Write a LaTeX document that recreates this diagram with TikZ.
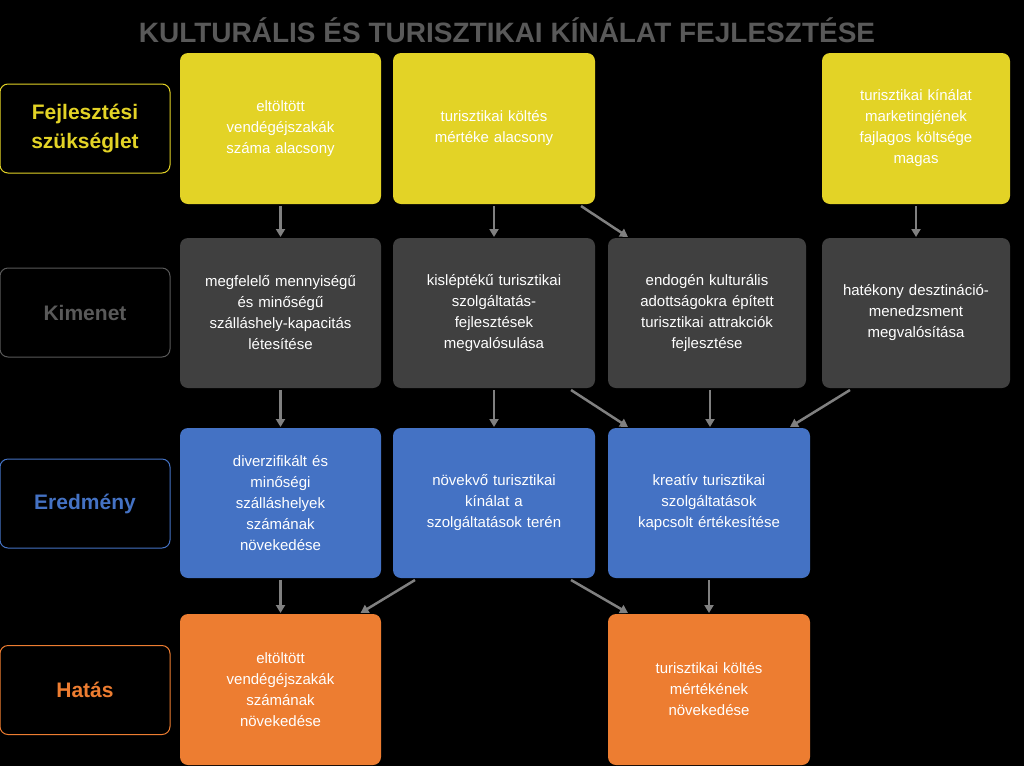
\documentclass[tikz,border=0pt]{standalone}
\usepackage{fontspec}
\setmainfont{Liberation Sans}
\usetikzlibrary{calc,arrows.meta}
\definecolor{cy}{HTML}{E3D326}
\definecolor{cg}{HTML}{404040}
\definecolor{cb}{HTML}{4472C4}
\definecolor{co}{HTML}{ED7D31}
\definecolor{ct}{HTML}{595959}
\definecolor{ca}{HTML}{808080}
\begin{document}
\begin{tikzpicture}[x=1pt,y=-1pt,
 box/.style={rounded corners=8pt,text=white,align=center,font=\fontsize{15}{21}\selectfont,inner sep=0pt},
 lab/.style={rounded corners=8pt,draw,line width=1pt,fill=black,align=center,font=\fontsize{21}{29}\selectfont\bfseries,inner sep=0pt},
 arr/.style={ca,line width=2.5pt,-{Triangle[length=8pt,width=9pt]}}]
\fill[black] (0,0) rectangle (1024,766);
\useasboundingbox (0,0) rectangle (1024,766);
\node[text=ct,font=\fontsize{28}{32}\selectfont\bfseries] (t) at (507,30) {KULTURÁLIS ÉS TURISZTIKAI KÍNÁLAT FEJLESZTÉSE};
\newcommand{\bx}[7]{\path[box,fill=#6] (#2,#3) rectangle (#4,#5);
 \node[box,text width=#4-#2-12] (#1) at ({(#2+#4)/2},{(#3+#5)/2}) {#7};
 \coordinate (#1n) at ({(#2+#4)/2},#3); \coordinate (#1s) at ({(#2+#4)/2},#5);}
\bx{y1}{180}{53}{381}{204}{cy}{eltöltött\\vendégéjszakák\\száma alacsony}
\bx{y2}{393}{53}{595}{204}{cy}{turisztikai költés\\mértéke alacsony}
\bx{y4}{822}{53}{1010}{204}{cy}{turisztikai kínálat\\marketingjének\\fajlagos költsége\\magas}
\bx{k1}{180}{238}{381}{388}{cg}{megfelelő mennyiségű\\és minőségű\\szálláshely-kapacitás\\létesítése}
\bx{k2}{393}{238}{595}{388}{cg}{kisléptékű turisztikai\\szolgáltatás-\\fejlesztések\\megvalósulása}
\bx{k3}{608}{238}{806}{388}{cg}{endogén kulturális\\adottságokra épített\\turisztikai attrakciók\\fejlesztése}
\bx{k4}{822}{238}{1010}{388}{cg}{hatékony desztináció-\\menedzsment\\megvalósítása}
\bx{e1}{180}{428}{381}{578}{cb}{diverzifikált és\\minőségi\\szálláshelyek\\számának\\növekedése}
\bx{e2}{393}{428}{595}{578}{cb}{növekvő turisztikai\\kínálat a\\szolgáltatások terén}
\bx{e3}{608}{428}{810}{578}{cb}{kreatív turisztikai\\szolgáltatások\\kapcsolt értékesítése}
\bx{h1}{180}{614}{381}{765}{co}{eltöltött\\vendégéjszakák\\számának\\növekedése}
\bx{h3}{608}{614}{810}{765}{co}{turisztikai költés\\mértékének\\növekedése}
\node[lab,draw=cy,text=cy,minimum width=170pt,minimum height=89pt] (l1) at (85,128.5) {Fejlesztési\\szükséglet};
\node[lab,draw=ct,text=ct,minimum width=170pt,minimum height=89pt] (l2) at (85,312.5) {Kimenet};
\node[lab,draw=cb,text=cb,minimum width=170pt,minimum height=89pt] (l3) at (85,503.5) {Eredmény};
\node[lab,draw=co,text=co,minimum width=170pt,minimum height=89pt] (l4) at (85,690) {Hatás};
\draw[arr] ($(y1s)+(0,2)$) -- ($(k1n)+(0,-1)$);
\draw[arr] ($(y2s)+(0,2)$) -- ($(k2n)+(0,-1)$);
\draw[arr] ($(y2s)+(87,2)$) -- ($(k3n)+(-79,-1)$);
\draw[arr] ($(y4s)+(0,2)$) -- ($(k4n)+(0,-1)$);
\draw[arr] ($(k1s)+(0,2)$) -- ($(e1n)+(0,-1)$);
\draw[arr] ($(k2s)+(0,2)$) -- ($(e2n)+(0,-1)$);
\draw[arr] ($(k2s)+(77,2)$) -- ($(e3n)+(-81,-1)$);
\draw[arr] ($(k3s)+(3,2)$) -- ($(e3n)+(1,-1)$);
\draw[arr] ($(k4s)+(-66,2)$) -- ($(e3n)+(81,-1)$);
\draw[arr] ($(e1s)+(0,2)$) -- ($(h1n)+(0,-1)$);
\draw[arr] ($(e2s)+(-79,2)$) -- ($(h1n)+(80,-1)$);
\draw[arr] ($(e2s)+(77,2)$) -- ($(h3n)+(-81,-1)$);
\draw[arr] ($(e3s)+(0,2)$) -- ($(h3n)+(0,-1)$);
\end{tikzpicture}
\end{document}
